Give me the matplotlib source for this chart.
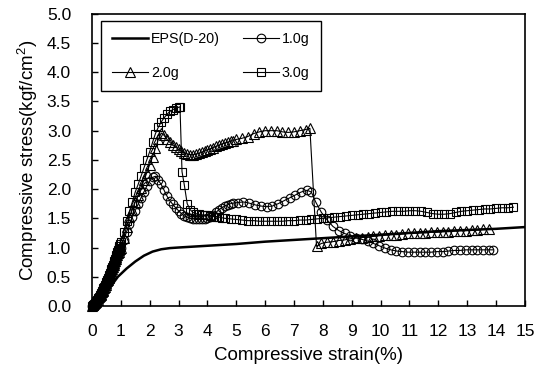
import matplotlib
matplotlib.use("Agg")
import matplotlib.pyplot as plt

plt.rcParams['font.family'] = ['Liberation Sans', 'DejaVu Sans']
plt.rcParams['mathtext.fontset'] = 'custom'
plt.rcParams['mathtext.rm'] = 'Liberation Sans'

# -----------------------------
# DATA
# -----------------------------
eps_x = [0, 0.3, 0.6, 0.9, 1.2, 1.5, 1.8, 2.1, 2.4, 2.7, 3.0, 4.0, 5.0, 6.0,
         7.0, 8.0, 9.0, 10.0, 11.0, 12.0, 13.0, 14.0, 15.0]
eps_y = [0, 0.1, 0.3, 0.5, 0.64, 0.76, 0.86, 0.93, 0.97, 0.99, 1.0, 1.03, 1.06, 1.1,
         1.13, 1.16, 1.19, 1.22, 1.25, 1.28, 1.3, 1.32, 1.35]

g10_x = [0, 0.025, 0.05, 0.075, 0.1, 0.125, 0.15, 0.175, 0.2, 0.225, 0.25, 0.275,
         0.3, 0.325, 0.35, 0.375, 0.4, 0.425, 0.45, 0.475, 0.5, 0.525, 0.55, 0.575,
         0.6, 0.625, 0.65, 0.675, 0.7, 0.725, 0.75, 0.775, 0.8, 0.825, 0.85, 0.875,
         0.9, 0.925, 0.95, 0.975, 1.0, 1.1, 1.2, 1.3, 1.4, 1.5, 1.6, 1.7, 1.8,
         1.9, 2.0, 2.1, 2.2, 2.3, 2.4, 2.5, 2.6, 2.7, 2.8, 2.9, 3.0, 3.1, 3.2, 3.3,
         3.4, 3.5, 3.6, 3.7, 3.8, 3.9, 4.0, 4.1, 4.2, 4.3, 4.4, 4.5, 4.6, 4.7, 4.8,
         4.9, 5.05, 5.25, 5.45, 5.65, 5.85, 6.05, 6.25, 6.45, 6.65, 6.85, 7.05, 7.25,
         7.45, 7.6, 7.75, 7.95, 8.15, 8.35, 8.55, 8.75, 8.95, 9.15, 9.35, 9.55, 9.75,
         9.95, 10.15, 10.35, 10.55, 10.75, 10.95, 11.15, 11.35, 11.55, 11.75, 11.95,
         12.15, 12.35, 12.55, 12.75, 12.95, 13.15, 13.35, 13.55, 13.75, 13.9]
g10_y = [0, 0.005, 0.015, 0.025, 0.04, 0.05, 0.065, 0.08, 0.095, 0.11, 0.13, 0.15,
         0.17, 0.19, 0.21, 0.235, 0.26, 0.285, 0.31, 0.335, 0.36, 0.39, 0.42, 0.45,
         0.48, 0.51, 0.54, 0.57, 0.6, 0.635, 0.67, 0.705, 0.74, 0.775, 0.81, 0.845,
         0.88, 0.91, 0.94, 0.97, 1.0, 1.13, 1.27, 1.4, 1.52, 1.63, 1.74, 1.85,
         1.95, 2.05, 2.14, 2.2, 2.22, 2.15, 2.08, 1.98, 1.88, 1.8, 1.74, 1.68, 1.63,
         1.58, 1.54, 1.52, 1.5, 1.49, 1.48, 1.48, 1.48, 1.49, 1.5, 1.52, 1.55, 1.6,
         1.65, 1.68, 1.71, 1.73, 1.75, 1.76, 1.77, 1.78, 1.76, 1.73, 1.71, 1.7, 1.71,
         1.75, 1.8, 1.85, 1.9, 1.95, 1.98, 1.95, 1.78, 1.6, 1.47, 1.36, 1.29, 1.24,
         1.2, 1.17, 1.14, 1.11, 1.07, 1.03, 0.99, 0.96, 0.94, 0.93, 0.92, 0.92, 0.92,
         0.92, 0.92, 0.93, 0.93, 0.94, 0.95, 0.95, 0.96, 0.96, 0.96, 0.96, 0.96, 0.96]

g20_x = [0, 0.025, 0.05, 0.075, 0.1, 0.125, 0.15, 0.175, 0.2, 0.225, 0.25, 0.275,
         0.3, 0.325, 0.35, 0.375, 0.4, 0.425, 0.45, 0.475, 0.5, 0.525, 0.55, 0.575,
         0.6, 0.625, 0.65, 0.675, 0.7, 0.725, 0.75, 0.775, 0.8, 0.825, 0.85, 0.875,
         0.9, 0.925, 0.95, 0.975, 1.0, 1.1, 1.2, 1.3, 1.4, 1.5, 1.6, 1.7, 1.8,
         1.9, 2.0, 2.1, 2.2, 2.3, 2.4, 2.5, 2.6, 2.7, 2.8, 2.9, 3.0, 3.1, 3.2, 3.3,
         3.4, 3.5, 3.6, 3.7, 3.8, 3.9, 4.0, 4.1, 4.2, 4.3, 4.4, 4.5, 4.6, 4.7, 4.8,
         4.9, 5.0, 5.2, 5.4, 5.6, 5.8, 6.0, 6.2, 6.4, 6.6, 6.8, 7.0, 7.2, 7.4, 7.55,
         7.78, 7.95, 8.15, 8.35, 8.55, 8.75, 8.95, 9.15, 9.35, 9.55, 9.75, 9.95, 10.15,
         10.35, 10.55, 10.75, 10.95, 11.15, 11.35, 11.55, 11.75, 11.95, 12.15, 12.35,
         12.55, 12.75, 12.95, 13.15, 13.35, 13.55, 13.75]
g20_y = [0, 0.01, 0.02, 0.035, 0.05, 0.065, 0.08, 0.095, 0.11, 0.13, 0.15, 0.17,
         0.19, 0.21, 0.23, 0.255, 0.28, 0.305, 0.33, 0.36, 0.39, 0.42, 0.45, 0.48,
         0.51, 0.54, 0.57, 0.6, 0.63, 0.665, 0.7, 0.735, 0.77, 0.805, 0.84, 0.87,
         0.9, 0.925, 0.95, 0.975, 1.0, 1.17, 1.35, 1.52, 1.65, 1.78, 1.9, 2.02,
         2.15, 2.28, 2.42, 2.55, 2.7, 2.85, 2.96, 2.92, 2.85, 2.8, 2.75, 2.72, 2.68,
         2.65, 2.62, 2.6, 2.59, 2.59, 2.6, 2.61, 2.63, 2.65, 2.67, 2.69, 2.71, 2.73,
         2.75, 2.77, 2.79, 2.8, 2.82, 2.83, 2.85, 2.87, 2.9, 2.95, 2.98, 3.0, 3.0, 3.0,
         2.98, 2.97, 2.98, 3.0, 3.02, 3.04, 1.02, 1.07, 1.09, 1.1, 1.12, 1.13, 1.15,
         1.16, 1.17, 1.18, 1.19, 1.2, 1.21, 1.22, 1.22, 1.23, 1.24, 1.24, 1.25, 1.25,
         1.26, 1.26, 1.27, 1.27, 1.28, 1.29, 1.29, 1.3, 1.3, 1.31, 1.31]

g30_x = [0, 0.025, 0.05, 0.075, 0.1, 0.125, 0.15, 0.175, 0.2, 0.225, 0.25, 0.275,
         0.3, 0.325, 0.35, 0.375, 0.4, 0.425, 0.45, 0.475, 0.5, 0.525, 0.55, 0.575,
         0.6, 0.625, 0.65, 0.675, 0.7, 0.725, 0.75, 0.775, 0.8, 0.825, 0.85, 0.875,
         0.9, 0.925, 0.95, 0.975, 1.0, 1.1, 1.2, 1.3, 1.4, 1.5, 1.6, 1.7, 1.8,
         1.9, 2.0, 2.1, 2.2, 2.3, 2.4, 2.5, 2.6, 2.7, 2.8, 2.9, 3.0, 3.05, 3.12, 3.2,
         3.3, 3.4, 3.5, 3.6, 3.7, 3.8, 3.9, 4.0, 4.1, 4.2, 4.3, 4.4, 4.5, 4.6, 4.8,
         5.0, 5.2, 5.4, 5.6, 5.8, 6.0, 6.2, 6.4, 6.6, 6.8, 7.0, 7.2, 7.4, 7.6, 7.8,
         8.0, 8.2, 8.4, 8.6, 8.8, 9.0, 9.2, 9.4, 9.6, 9.8, 10.0, 10.2, 10.4, 10.6,
         10.8, 11.0, 11.2, 11.4, 11.6, 11.8, 12.0, 12.2, 12.4, 12.6, 12.8, 13.0, 13.2,
         13.4, 13.6, 13.8, 14.0, 14.2, 14.4, 14.6]
g30_y = [0, 0.01, 0.02, 0.035, 0.05, 0.07, 0.085, 0.1, 0.12, 0.14, 0.16, 0.18,
         0.2, 0.225, 0.25, 0.275, 0.3, 0.325, 0.35, 0.38, 0.41, 0.44, 0.47, 0.5,
         0.53, 0.565, 0.6, 0.635, 0.67, 0.705, 0.74, 0.775, 0.81, 0.845, 0.88, 0.915,
         0.95, 0.985, 1.02, 1.06, 1.1, 1.27, 1.45, 1.62, 1.78, 1.95, 2.08,
         2.22, 2.36, 2.5, 2.64, 2.8, 2.95, 3.06, 3.15, 3.22, 3.28, 3.33, 3.36, 3.38,
         3.4, 3.41, 2.3, 2.07, 1.75, 1.65, 1.6, 1.58, 1.57, 1.56, 1.55, 1.55, 1.54,
         1.53, 1.53, 1.52, 1.51, 1.5, 1.49, 1.48, 1.47, 1.46, 1.46, 1.45, 1.45, 1.45,
         1.45, 1.45, 1.46, 1.46, 1.47, 1.47, 1.48, 1.49, 1.5, 1.51, 1.52, 1.53, 1.54,
         1.55, 1.56, 1.57, 1.58, 1.59, 1.6, 1.61, 1.62, 1.62, 1.62, 1.63, 1.63, 1.62,
         1.6, 1.58, 1.57, 1.57, 1.58, 1.6, 1.62, 1.63, 1.64, 1.65, 1.66, 1.66, 1.67,
         1.68, 1.68, 1.69]

x_ticks = list(range(0, 16))
y_ticks = [0.0, 0.5, 1.0, 1.5, 2.0, 2.5, 3.0, 3.5, 4.0, 4.5, 5.0]

# -----------------------------
# PLOT
# -----------------------------
fig = plt.figure(figsize=(5.44, 3.74), dpi=100)
ax = fig.add_axes([0.169, 0.182, 0.796, 0.781])

ax.plot(eps_x, eps_y, color='black', lw=1.8, label='EPS(D-20)')
ax.plot(g20_x, g20_y, color='black', lw=0.8, marker='^', ms=6.5,
        mfc='none', mec='black', mew=0.8, label='2.0g', clip_on=False)
ax.plot(g10_x, g10_y, color='black', lw=0.8, marker='o', ms=6.2,
        mfc='none', mec='black', mew=0.8, label='1.0g', clip_on=False)
ax.plot(g30_x, g30_y, color='black', lw=0.8, marker='s', ms=6,
        mfc='none', mec='black', mew=0.8, label='3.0g', clip_on=False)

ax.set_xlim(0, 15)
ax.set_ylim(0, 5)
ax.set_xticks(x_ticks)
ax.set_yticks(y_ticks)
ax.set_yticklabels([f"{v:.1f}" for v in y_ticks])
ax.tick_params(direction='in', length=4, width=1, labelsize=12.5)
ax.tick_params(axis='x', pad=13)
ax.tick_params(axis='y', pad=15)
for s in ax.spines.values():
    s.set_linewidth(1.2)

ax.set_xlabel("Compressive strain(%)", fontsize=13.5, labelpad=6)
ax.set_ylabel("Compressive stress(kgf/cm$^2$)", fontsize=13.5, labelpad=5)

leg = ax.legend(ncol=2, loc='upper left', bbox_to_anchor=(0.021, 0.976),
                borderaxespad=0, fancybox=False, edgecolor='black',
                framealpha=1, fontsize=10.3, handlelength=2.5, handletextpad=0.2,
                columnspacing=1.6, labelspacing=1.35, borderpad=0.8)
leg.get_frame().set_linewidth(1.0)

fig.savefig("out.png", dpi=100)
